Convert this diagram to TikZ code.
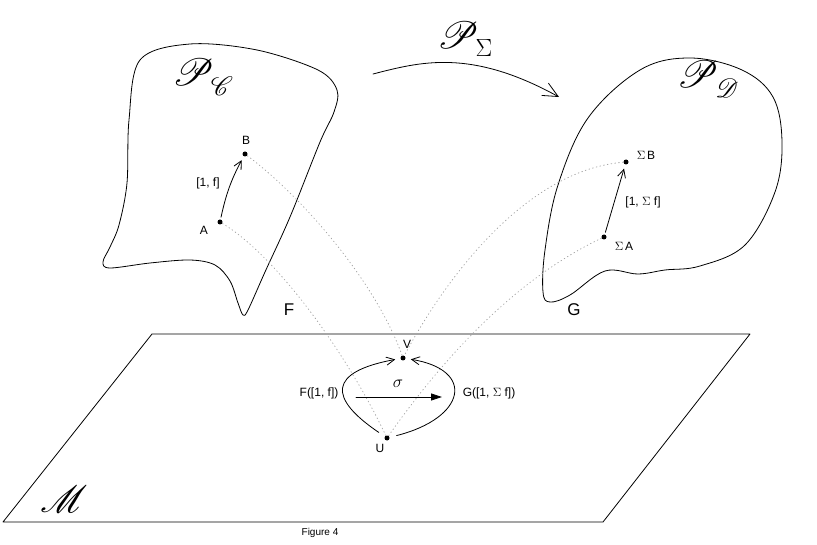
\documentclass[tikz,border=0pt]{standalone}
\usepackage[no-math]{fontspec}
\setmainfont{Liberation Sans}
% rsfs 可任意缩放
\DeclareFontFamily{U}{rsfsx}{\skewchar\font127 }
\DeclareFontShape{U}{rsfsx}{m}{n}{<-6> rsfs5 <6-8> rsfs7 <8-> rsfs10}{}
\DeclareMathAlphabet{\mathscrx}{U}{rsfsx}{m}{n}
\usetikzlibrary{arrows.meta}

\begin{document}
\begin{tikzpicture}[x=1pt, y=-1pt, line width=0.8pt, line cap=round, line join=round,
  pnt/.style={circle, fill, inner sep=0pt, minimum size=5pt},
  lbl/.style={inner sep=0pt, font=\fontsize{12}{14}\selectfont},
  biglbl/.style={inner sep=0pt, font=\fontsize{17}{20}\selectfont},
  scr/.style={inner sep=0pt, font=\fontsize{38}{44}\selectfont},
  proj/.style={draw=black!35, dash pattern=on 0.8pt off 3pt},
  barb/.style={-{Straight Barb[length=8pt,width=8pt]}}]

  %% ════ 两块范畴区域 ════
  \draw plot[smooth cycle, tension=0.55] coordinates {
    (140,60) (190,44) (257,50) (318,70) (337,90) (334,112) (320,142) (290,217)
    (265,272) (248,310) (243,315) (238,303) (230,281) (215,265) (190,260)
    (150,263) (110,268) (103,262) (110,247) (119,225) (127,183) (129,120)};
  \draw plot[smooth cycle, tension=0.6] coordinates {
    (690,58) (742,70) (773,97) (782,142) (775,192) (745,245) (700,266)
    (665,270) (638,274) (605,271) (570,295) (550,302) (543,292) (545,250)
    (558,185) (588,118) (640,70)};

  %% ════ 流形平面 ════
  \draw (3,522) -- (152,334) -- (750,334) -- (603,522) -- cycle;

  %% ════ 点 ════
  \node[pnt] (A) at (220,222) {};
  \node[pnt] (B) at (245,154) {};
  \node[pnt] (SA) at (604,237) {};
  \node[pnt] (SB) at (626,162) {};
  \node[pnt] (V) at (403,358) {};
  \node[pnt] (U) at (387,438) {};

  %% ════ 投影虚线 ════
  \draw[proj] (A) .. controls (275,255) and (345,350) .. (U);
  \draw[proj] (B) .. controls (300,195) and (375,280) .. (V);
  \draw[proj] (SB) .. controls (530,170) and (450,270) .. (V);
  \draw[proj] (SA) .. controls (545,265) and (470,320) .. (U);

  %% ════ 箭头 ════
  \draw[barb, shorten <=2pt, shorten >=4pt] (A) to[bend left=8] (B);
  \draw[barb, shorten <=2pt, shorten >=4pt] (SA) -- (SB);
  \draw[barb, shorten <=7pt, shorten >=5pt] (U) .. controls (328,398) and (328,372) .. (V);
  \draw[barb, shorten <=7pt, shorten >=5pt] (U) .. controls (466,418) and (476,370) .. (V);
  \coordinate (sig-l) at (356,397);
  \coordinate (sig-r) at (442,397);
  \draw[-{Triangle[length=11pt,width=7pt]}] (sig-l) -- (sig-r);
  \coordinate (fun-l) at (373,74);
  \coordinate (fun-r) at (559,97);
  \draw[-{Straight Barb[length=15pt,width=14pt]}] (fun-l) .. controls (420,62) and (470,48) .. (fun-r);

  %% ════ 标签 ════
  \node[lbl] (lA) at (204,230) {A};
  \node[lbl] (lB) at (246,140) {B};
  \node[lbl] (lAB) at (208,183) {[1, f]};
  \node[lbl] (lSA) at (624,246) {$\Sigma\,$A};
  \node[lbl] (lSB) at (646,155) {$\Sigma\,$B};
  \node[lbl] (lSAB) at (643,202) {[1, $\Sigma$ f]};
  \node[lbl] (lV) at (407,344) {V};
  \node[lbl] (lU) at (380,448) {U};
  \node[lbl] (lFf) at (319,393) {F([1, f])};
  \node[lbl] (lGf) at (489,393) {G([1, $\Sigma$ f])};
  \node[inner sep=0pt, font=\fontsize{17}{20}\selectfont] (lsig) at (398,384) {$\sigma$};
  \node[biglbl] (lF) at (289,310) {F};
  \node[biglbl] (lG) at (574,310) {G};
  \node[scr] (lPC) at (203,77) {$\mathscrx{P}_{\mathscrx{C}}$};
  \node[scr] (lPS) at (465,39) {$\mathscrx{P}_{\Sigma}$};
  \node[scr] (lPD) at (708,79) {$\mathscrx{P}_{\mathscrx{D}}$};
  \node[scr] (lM) at (64,499) {$\mathscrx{M}$};
  \node[inner sep=0pt, font=\fontsize{10}{12}\selectfont] (cap) at (320,533) {Figure 4};

  % 钉死画布
  \pgfresetboundingbox
  \path[use as bounding box] (0,0) rectangle (817,545);
\end{tikzpicture}
\end{document}
